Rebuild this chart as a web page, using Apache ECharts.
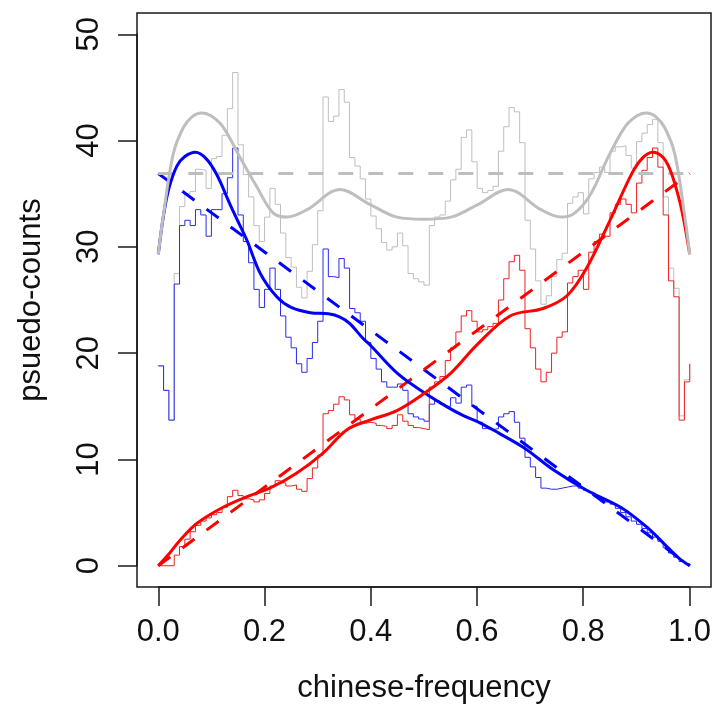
<!DOCTYPE html>
<html>
<head>
<meta charset="utf-8">
<script src="https://cdn.jsdelivr.net/npm/echarts@6/dist/echarts.min.js"></script>
<style>
html,body{margin:0;padding:0;background:#fff;}
#chart{width:714px;height:713px;}
</style>
</head>
<body>
<div id="chart"></div>
<script>
// x positions of the step data (chinese-frequency)
const freqGrid = [
0.00,0.01,0.02,0.03,0.04,0.05,0.06,0.07,0.08,0.09,
0.10,0.11,0.12,0.13,0.14,0.15,0.16,0.17,0.18,0.19,
0.20,0.21,0.22,0.23,0.24,0.25,0.26,0.27,0.28,0.29,
0.30,0.31,0.32,0.33,0.34,0.35,0.36,0.37,0.38,0.39,
0.40,0.41,0.42,0.43,0.44,0.45,0.46,0.47,0.48,0.49,
0.50,0.51,0.52,0.53,0.54,0.55,0.56,0.57,0.58,0.59,
0.60,0.61,0.62,0.63,0.64,0.65,0.66,0.67,0.68,0.69,
0.70,0.71,0.72,0.73,0.74,0.75,0.76,0.77,0.78,0.79,
0.80,0.81,0.82,0.83,0.84,0.85,0.86,0.87,0.88,0.89,
0.90,0.91,0.92,0.93,0.94,0.95,0.96,0.97,0.98,0.99,
1.00];
const blueCounts = [
18.8,16.5,13.7,26.5,32,32.5,32,33.5,33,31,
33.5,33.5,35,36.5,39.3,33,30.5,28.5,26,24.3,
26,28,26,23.5,21.5,20.5,19,18.2,19.5,21,
23,29.8,27.2,27.1,28.9,28,24.2,23.8,23,21,
19.5,18.5,17.3,16.8,16.8,17.1,16.5,14.3,14,13.8,
13.6,15.2,15.5,15.2,15,15.8,15.3,16.8,17,15,
13.5,12.9,12.8,12.9,14,14.3,14.5,13.5,12,10.2,
9.3,8.3,7.3,7.2,7.2,7.3,7.4,7.5,7.5,7.3,
7.1,6.9,6.5,6.3,6,5.8,5.4,5,4.6,4.2,
3.9,3.5,3.1,2.7,2.3,1.7,1.2,0.8,0.4,0.2,
0];
const redCounts = [
0,0,0,1,1.8,2.5,3.2,3.8,4.2,4.5,
4.8,5,5.5,6.5,7.1,6.6,6.3,6.2,6,6.2,
6.8,7.5,8,7.8,7.5,7.6,7.2,7,8.2,9.2,
10.4,14.3,14.6,15.2,15.9,15.6,14.2,13.8,13.4,13.5,
13.4,13.2,13.1,12.9,13.2,14.2,13.6,13.2,13,12.9,
12.8,16.8,17.3,17.8,19.3,20.5,22,23.5,24,23,
22,22.2,22.5,22.8,25,27,28.6,29.2,27.8,22.3,
20.5,18.5,17.3,18.2,20,21.5,22,26.6,27.2,27.8,
26,29.5,30.5,31.2,31,33.2,34,34.5,34,33.2,
36,37.2,38.4,39.3,37.5,33,26.8,25.3,13.7,17.3,
19];
const totalCounts = [
18.8,16.5,13.7,27.5,33.8,35,35.2,37.3,37.2,35.5,
38.3,38.5,40.5,43,46.4,39.6,36.8,34.7,32,30.5,
32.8,35.5,34,31.3,29,28.1,26.2,25.2,27.7,30.2,
33.4,44.1,41.8,42.3,44.8,43.6,38.4,37.6,36.4,34.5,
32.9,31.7,30.4,29.7,30,31.3,30.1,27.5,27,26.7,
26.4,32,32.8,33,34.3,36.3,37.3,40.3,41,38,
35.5,35.1,35.3,35.7,39,41.3,43.1,42.7,39.8,32.5,
29.8,26.8,24.6,25.4,27.2,28.8,29.4,34.1,34.7,35.1,
33.1,36.4,37,37.5,37,39,39.4,39.5,38.6,37.4,
39.9,40.7,41.5,42,39.8,34.7,28,26.1,14.1,17.5,
19];

// smoothed curves (x, y read at the curve's features)
const blueSmoothX = [0,0.01,0.02,0.035,0.05,0.07,0.09,0.11,0.135,0.15,0.167,0.192,0.223,0.25,0.286,0.32,0.342,0.36,0.385,0.4,0.45,0.5,0.545,0.575,0.607,0.64,0.688,0.744,0.806,0.87,0.92,0.957,0.98,1];
const blueSmooth  = [29.3,33.0,35.5,37.6,38.5,38.9,38.3,36.8,34.0,32.4,30.6,27.5,25.3,24.3,23.8,23.7,23.4,22.8,21.4,20.7,18.1,16.3,14.9,14.1,13.4,12.5,11.1,9.0,7.1,5.5,3.6,1.8,0.7,0];
const redSmoothX  = [0,0.02,0.041,0.073,0.122,0.167,0.21,0.26,0.31,0.355,0.398,0.449,0.5,0.55,0.6,0.662,0.724,0.769,0.806,0.85,0.89,0.91,0.93,0.95,0.965,0.981,0.99,1];
const redSmooth   = [0,1.1,2.4,4.0,5.5,6.5,7.3,8.7,10.6,12.8,13.7,14.6,16.2,18.1,20.8,23.5,24.2,25.4,28.0,32.5,36.8,38.3,38.9,38.4,37.0,34.3,32.2,29.3];
const totalSmoothX = [0,0.01,0.028,0.047,0.065,0.082,0.1,0.123,0.154,0.186,0.216,0.242,0.28,0.342,0.398,0.449,0.5,0.551,0.602,0.658,0.72,0.758,0.784,0.814,0.846,0.877,0.9,0.918,0.935,0.953,0.972,0.99,1];
const totalSmooth  = [29.3,33.1,38.7,41.2,42.3,42.6,42.3,41.2,38.4,35.6,33.2,32.8,33.5,35.4,34.0,32.8,32.6,32.8,34.0,35.4,33.5,32.8,33.2,35.0,38.4,41.2,42.3,42.6,42.3,41.2,38.7,33.1,29.3];

// straight reference (dashed) lines
const fitX = [0, 1];
const blueFit = [36.9, 0];
const redFit = [0, 36.9];
const totalFit = [36.9, 36.9];

// axis ticks
const xTickMin = 0, xTickMax = 1, xTickStep = 0.2;
const yTickMin = 0, yTickMax = 50, yTickStep = 10;
const xTitle = 'chinese-frequency';
const yTitle = 'psuedo-counts';

const pairs = (xs, ys) => xs.map((x, i) => [x, ys[i]]);

const FONT = '"Liberation Sans", Arial, Helvetica, sans-serif';
const BLUE = '#0000ff', RED = '#ff0000', GRAY = '#bebebe';

// geometry (pixels)
const boxL = 137, boxR = 711, boxT = 13, boxB = 587;
const xMin = -0.04, xMax = 1.04, yMin = -2, yMax = 52;
const pxPerX = (boxR - boxL) / (xMax - xMin);
const pxPerY = (boxB - boxT) / (yMax - yMin);
const x0px = boxL + (xTickMin - xMin) * pxPerX;
const x1px = boxL + (xTickMax - xMin) * pxPerX;
const y0px = boxB - (yTickMin - yMin) * pxPerY;
const y1px = boxB - (yTickMax - yMin) * pxPerY;

const chart = echarts.init(document.getElementById('chart'), null, {renderer: 'canvas'});

function stepSeries(name, ys, color, width) {
  return {name, type: 'line', xAxisIndex: 0, yAxisIndex: 0, step: 'end',
    data: pairs(freqGrid, ys), symbol: 'none', animation: false,
    lineStyle: {color, width}, silent: true};
}
function smoothSeries(name, xs, ys, color) {
  return {name, type: 'line', xAxisIndex: 0, yAxisIndex: 0, smooth: 0.35,
    data: pairs(xs, ys), symbol: 'none', animation: false,
    lineStyle: {color, width: 3}, silent: true};
}
function dashSeries(name, ys, color) {
  return {name, type: 'line', xAxisIndex: 0, yAxisIndex: 0,
    data: pairs(fitX, ys), symbol: 'none', animation: false,
    lineStyle: {color, width: 3, type: [15, 15], cap: 'butt'}, silent: true};
}

const axisColor = '#1a1a1a';
const option = {
  backgroundColor: '#ffffff',
  animation: false,
  grid: [
    {left: boxL, top: boxT, width: boxR - boxL, height: boxB - boxT,
     show: true, borderColor: axisColor, borderWidth: 1.5, backgroundColor: 'transparent'},
    {left: x0px, top: y1px, width: x1px - x0px, height: y0px - y1px, show: false}
  ],
  xAxis: [
    {type: 'value', gridIndex: 0, min: xMin, max: xMax, show: false},
    {type: 'value', gridIndex: 1, min: xTickMin, max: xTickMax, interval: xTickStep,
     position: 'bottom', offset: boxB - y0px,
     axisLine: {show: true, onZero: false, lineStyle: {color: axisColor, width: 1.5}},
     axisTick: {show: true, inside: false, length: 19, lineStyle: {color: axisColor, width: 1.5}},
     splitLine: {show: false},
     axisLabel: {margin: 30, color: '#111', fontFamily: FONT, fontSize: 31,
       formatter: v => v.toFixed(1)}}
  ],
  yAxis: [
    {type: 'value', gridIndex: 0, min: yMin, max: yMax, show: false},
    {type: 'value', gridIndex: 1, min: yTickMin, max: yTickMax, interval: yTickStep,
     position: 'left', offset: x0px - boxL,
     axisLine: {show: true, onZero: false, lineStyle: {color: axisColor, width: 1.5}},
     axisTick: {show: true, inside: false, length: 19, lineStyle: {color: axisColor, width: 1.5}},
     splitLine: {show: false},
     axisLabel: {margin: 32, rotate: 90, color: '#111', fontFamily: FONT, fontSize: 31,
       formatter: v => String(v)}}
  ],
  graphic: [
    {type: 'text', silent: true, x: (boxL + boxR) / 2, y: 688,
     style: {text: xTitle, fontFamily: FONT, fontSize: 31, fill: '#111',
       textAlign: 'center', textVerticalAlign: 'middle'}},
    {type: 'text', silent: true, x: 31, y: (boxT + boxB) / 2, rotation: Math.PI / 2,
     style: {text: yTitle, fontFamily: FONT, fontSize: 31, fill: '#111',
       textAlign: 'center', textVerticalAlign: 'middle'}}
  ],
  series: [
    stepSeries('total', totalCounts, GRAY, 1),
    stepSeries('blue', blueCounts, '#2a2aee', 1),
    stepSeries('red', redCounts, '#f02020', 1),
    dashSeries('blue fit', blueFit, BLUE),
    dashSeries('red fit', redFit, RED),
    dashSeries('total fit', totalFit, GRAY),
    smoothSeries('blue smooth', blueSmoothX, blueSmooth, BLUE),
    smoothSeries('red smooth', redSmoothX, redSmooth, RED),
    smoothSeries('total smooth', totalSmoothX, totalSmooth, GRAY)
  ]
};
chart.setOption(option);
</script>
</body>
</html>
